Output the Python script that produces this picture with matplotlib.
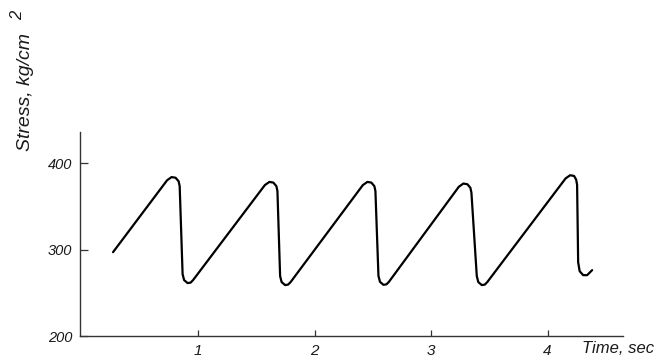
import numpy as np
import matplotlib.pyplot as plt

# stress record (time in sec, stress in kg/cm^2)
# several points per corner so the rounded peaks/troughs come through
time_s = [0.270,
          0.734, 0.7725, 0.807, 0.833, 0.842, 0.867, 0.880, 0.910, 0.936, 0.957,
          1.573, 1.612, 1.646, 1.672, 1.681, 1.704, 1.717, 1.747, 1.773, 1.794,
          2.414, 2.453, 2.487, 2.513, 2.522, 2.548, 2.561, 2.591, 2.617, 2.638,
          3.238, 3.277, 3.311, 3.337, 3.346, 3.392, 3.405, 3.435, 3.461, 3.482,
          4.154, 4.193, 4.227, 4.245, 4.253, 4.262, 4.275, 4.305, 4.339, 4.382]
stress = [297.1,
          380.3, 384.0, 383.2, 379.1, 373.4, 271.7, 264.8, 261.3, 261.9, 264.8,
          374.7, 378.4, 377.6, 373.5, 367.8, 269.4, 262.5, 259.0, 259.6, 262.5,
          374.7, 378.4, 377.6, 373.5, 367.8, 269.7, 262.8, 259.3, 259.9, 262.8,
          372.8, 376.5, 375.7, 371.6, 365.9, 269.4, 262.5, 259.0, 259.6, 262.5,
          382.4, 386.1, 385.3, 381.0, 375.0, 285.5, 275.1, 270.5, 270.5, 276.3]

xticks = [1, 2, 3, 4]
yticks = [200, 300, 400]

hand = {"family": "Liberation Sans", "style": "italic"}
ink = "#1a1a1a"

fig = plt.figure(figsize=(6.58, 3.61), dpi=100)
ax = fig.add_axes([0.1215, 0.069, 0.8255, 0.565])

ax.plot(time_s, stress, color="black", lw=1.6,
        solid_joinstyle="round", solid_capstyle="round")

ax.set_xlim(-0.014, 4.648)
ax.set_ylim(200, 436)

for s in ["top", "right"]:
    ax.spines[s].set_visible(False)
for s in ["left", "bottom"]:
    ax.spines[s].set_color("#333333")
    ax.spines[s].set_linewidth(1.0)

ax.set_xticks(xticks)
ax.set_yticks(yticks)
ax.set_xticklabels([str(v) for v in xticks], fontdict=hand, fontsize=11, color=ink)
ax.set_yticklabels([str(v) for v in yticks], fontdict=hand, fontsize=10.5, color=ink)
ax.tick_params(axis="both", direction="in", length=5.5, width=0.9,
               color="#333333", pad=5.5)
ax.tick_params(axis="x", length=4.5)

fig.text(582 / 658, 1 - 341 / 361, "Time, sec", fontdict=hand, fontsize=12,
         color=ink, ha="left", va="top")
fig.text(26 / 658, 1 - 92 / 361, "Stress, kg/cm", fontdict=hand, fontsize=14,
         color=ink, rotation=90, ha="center", va="center")
fig.text(18 / 658, 1 - 15 / 361, "2", fontdict=hand, fontsize=12,
         color=ink, rotation=90, ha="center", va="center")

fig.savefig("out.png", dpi=100, facecolor="white")
